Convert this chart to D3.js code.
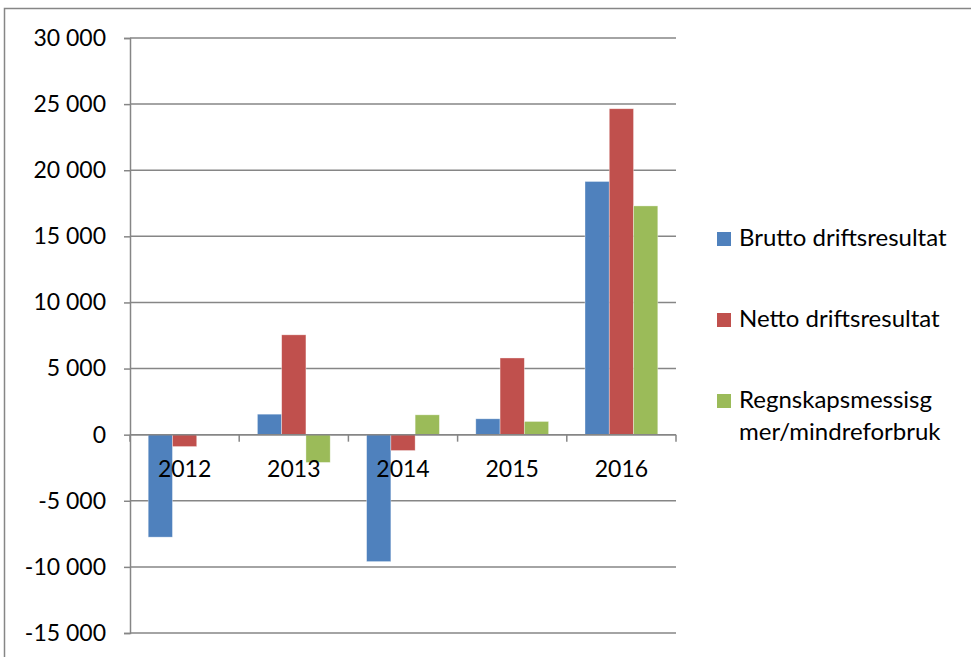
<!DOCTYPE html>
<html>
<head>
<meta charset="utf-8">
<script src="https://cdnjs.cloudflare.com/ajax/libs/d3/7.8.5/d3.min.js"></script>
<style>
  body { margin: 0; background: #fff; }
  svg text { font-family: Lato, "Open Sans", sans-serif; fill: #000; }
</style>
</head>
<body>
<div id="chart"></div>
<script>
// data
var years = ["2012", "2013", "2014", "2015", "2016"];
var seriesNames = ["Brutto driftsresultat", "Netto driftsresultat", "Regnskapsmessisg mer/mindreforbruk"];
var brutto = [-7750, 1550, -9600, 1200, 19150];
var netto = [-900, 7550, -1200, 5800, 24650];
var regnskap = [0, -2100, 1500, 1000, 17300];
var yTicks = [-15000, -10000, -5000, 0, 5000, 10000, 15000, 20000, 25000, 30000];
var colors = ["#4F81BD", "#C0504D", "#9BBB59"];

var width = 971, height = 657;
var plot = { left: 130, right: 676, top: 38, bottom: 633 };

var svg = d3.select("#chart").append("svg")
    .attr("width", width)
    .attr("height", height);

// outer frame
svg.append("rect")
    .attr("x", 4.5).attr("y", 8.5)
    .attr("width", 1000).attr("height", 700)
    .attr("fill", "none")
    .attr("stroke", "#868686")
    .attr("stroke-width", 1.5);

var x = d3.scaleBand()
    .domain(years)
    .range([plot.left, plot.right]);

var y = d3.scaleLinear()
    .domain([-15000, 30000])
    .range([plot.bottom, plot.top]);

// bar width like excel gap width 150%
var barW = x.bandwidth() / 4.5;
var x1 = d3.scaleBand()
    .domain([0, 1, 2])
    .range([barW * 0.75, barW * 3.75]);

// gridlines + y axis
var yAxis = svg.append("g")
    .attr("transform", "translate(" + plot.left + ",0)")
    .call(d3.axisLeft(y).tickValues(yTicks).tickSize(6).tickPadding(18)
        .tickFormat(function (d) { return d3.format(",")(d).replace(/,/g, " ").replace("−", "-"); }));
yAxis.select(".domain").attr("stroke", "#868686").attr("stroke-width", 1.5);
yAxis.selectAll(".tick line").attr("stroke", "#868686").attr("stroke-width", 1.5);
yAxis.selectAll(".tick text").style("font-size", "23px").style("font-family", "Lato");

svg.append("g")
    .selectAll("line")
    .data(yTicks)
    .enter().append("line")
    .attr("x1", plot.left)
    .attr("x2", plot.right)
    .attr("y1", function (d) { return y(d); })
    .attr("y2", function (d) { return y(d); })
    .attr("stroke", "#868686")
    .attr("stroke-width", 1.5);

// bars
var rows = years.map(function (yr, i) {
    return { year: yr, vals: [brutto[i], netto[i], regnskap[i]] };
});

var groups = svg.append("g").selectAll("g")
    .data(rows)
    .enter().append("g")
    .attr("transform", function (d) { return "translate(" + x(d.year) + ",0)"; });

groups.selectAll("rect")
    .data(function (d) { return d.vals; })
    .enter().append("rect")
    .attr("x", function (d, i) { return x1(i); })
    .attr("width", x1.bandwidth())
    .attr("y", function (d) { return y(Math.max(0, d)); })
    .attr("height", function (d) { return Math.abs(y(d) - y(0)); })
    .attr("fill", function (d, i) { return colors[i]; })
    .attr("stroke", "rgba(255,255,255,0.5)")
    .attr("stroke-width", 0.7);

// x axis at zero
var xAxis = svg.append("g")
    .attr("transform", "translate(0," + y(0) + ")")
    .call(d3.axisBottom(x).tickSize(0).tickPadding(26));
xAxis.select(".domain").remove();
xAxis.selectAll(".tick text").style("font-size", "23px").style("font-family", "Lato");

svg.append("line")
    .attr("x1", plot.left).attr("x2", plot.right)
    .attr("y1", y(0)).attr("y2", y(0))
    .attr("stroke", "#868686").attr("stroke-width", 1.5);

svg.append("g")
    .selectAll("line")
    .data(years.concat(["end"]))
    .enter().append("line")
    .attr("x1", function (d) { return d === "end" ? plot.right : x(d); })
    .attr("x2", function (d) { return d === "end" ? plot.right : x(d); })
    .attr("y1", y(0))
    .attr("y2", y(0) + 7)
    .attr("stroke", "#868686")
    .attr("stroke-width", 1.5);

// legend
var legendRows = [
    { lines: ["Brutto driftsresultat"], base: 246 },
    { lines: ["Netto driftsresultat"], base: 327 },
    { lines: ["Regnskapsmessisg", "mer/mindreforbruk"], base: 408 }
];

var legend = svg.append("g");
legendRows.forEach(function (r, i) {
    legend.append("rect")
        .attr("x", 717)
        .attr("y", r.base - 14)
        .attr("width", 14)
        .attr("height", 14)
        .attr("fill", colors[i]);
    var t = legend.append("text")
        .attr("x", 739)
        .attr("y", r.base)
        .style("font-size", "24px")
        .text(null);
    r.lines.forEach(function (line, j) {
        t.append("tspan")
            .attr("x", 739)
            .attr("dy", j === 0 ? 0 : 32)
            .text(line);
    });
});
</script>
</body>
</html>
